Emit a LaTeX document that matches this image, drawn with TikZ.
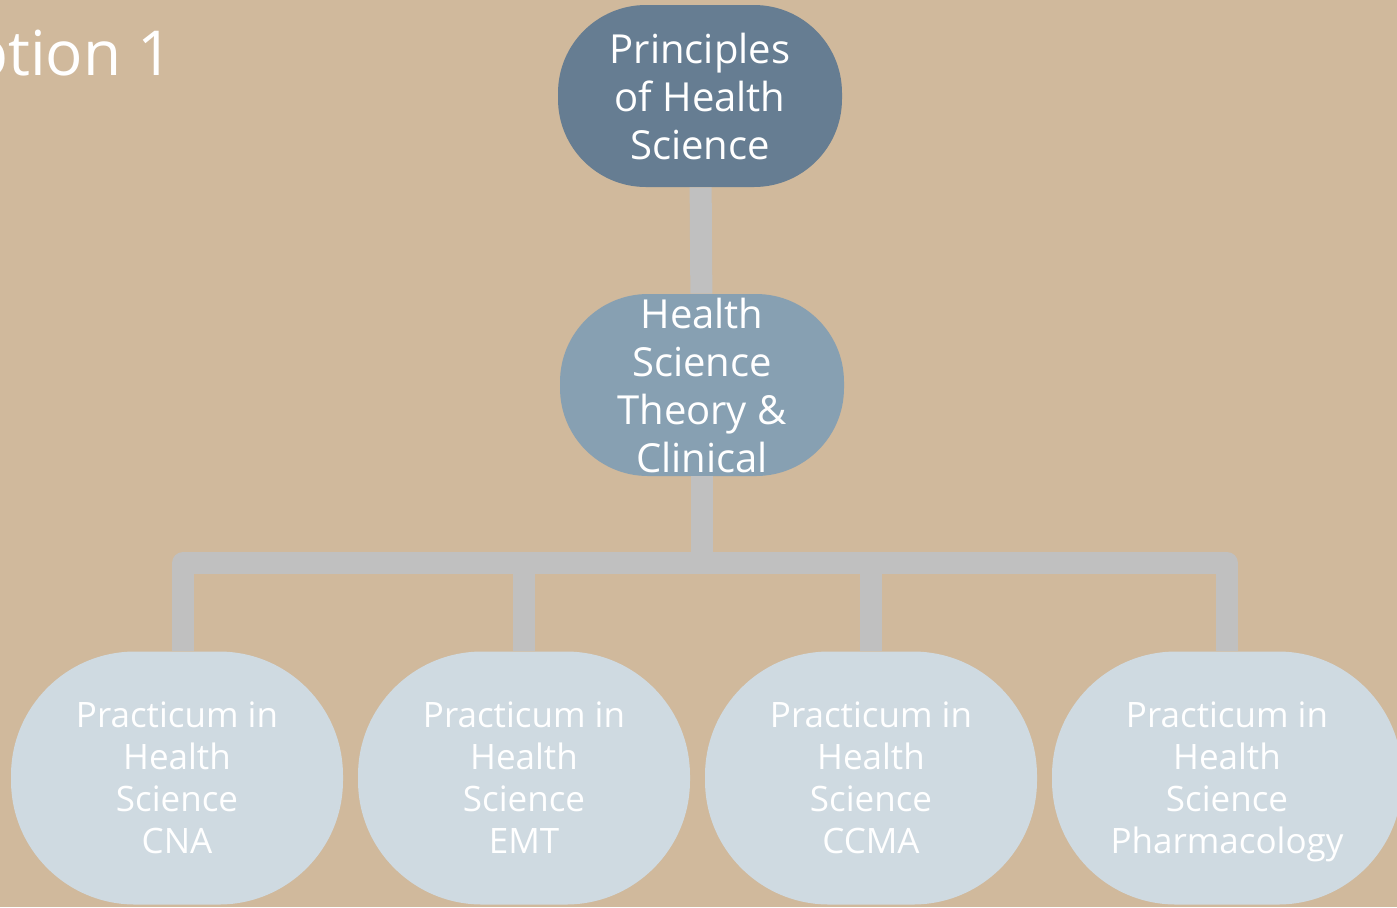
\documentclass[tikz,border=0pt]{standalone}
\usepackage{fontspec}
\setmainfont{Open Sans}
\usetikzlibrary{graphs}
\definecolor{sand}{HTML}{D0B99C}
\definecolor{slate}{HTML}{667D92}
\definecolor{steel}{HTML}{87A0B2}
\definecolor{mist}{HTML}{CFDAE1}
\definecolor{wire}{HTML}{C0C0C0}
\tikzset{
  course/.style={rectangle, rounded corners=44pt, text=white, align=center, inner sep=0pt,
    minimum width=142pt, minimum height=91pt, font=\fontsize{20}{24}\selectfont},
  practicum/.style={course, fill=mist, rounded corners=62pt, minimum width=166pt,
    minimum height=126.5pt, font=\fontsize{17.5}{21}\selectfont},
  link/.style={draw=wire, line width=11pt, line join=round},
}

\begin{document}
\begin{tikzpicture}[x=0.5pt,y=-0.5pt]
                \fill[sand] (0,0) rectangle (1397,907);
                \useasboundingbox (0,0) rectangle (1397,907);
                \clip (0,0) rectangle (1397,907);
                \node[anchor=base east, text=white, font=\fontsize{31}{36}\selectfont] (title) at (180,75) {Option 1};
                \node[course, fill=slate] (phs) at (700,96) {Principles\\of Health\\Science};
                \node[course, fill=steel] (hst) at (702,385) {Health\\Science\\Theory \&\\Clinical};
                \node[practicum] (cna) at (177,778) {Practicum in\\Health\\Science\\CNA};
                \node[practicum] (emt) at (524,778) {Practicum in\\Health\\Science\\EMT};
                \node[practicum] (ccma) at (871,778) {Practicum in\\Health\\Science\\CCMA};
                \node[practicum, minimum width=175pt] (pharm) at (1227,778) {Practicum in\\Health\\Science\\\smash{Pharmacology}};
                \coordinate (bar) at (702,563);
                \graph[use existing nodes, edges={link}]{
                    phs -- hst ;
                    hst --[to path={-- (\tikztostart |- bar) -| ([xshift=3pt]\tikztotarget.north)}] cna ;
                    hst --[to path={-- (\tikztostart |- bar) -| (\tikztotarget)}] {
                        emt, ccma, pharm
                    } ;
                } ;
            \end{tikzpicture}
\end{document}
